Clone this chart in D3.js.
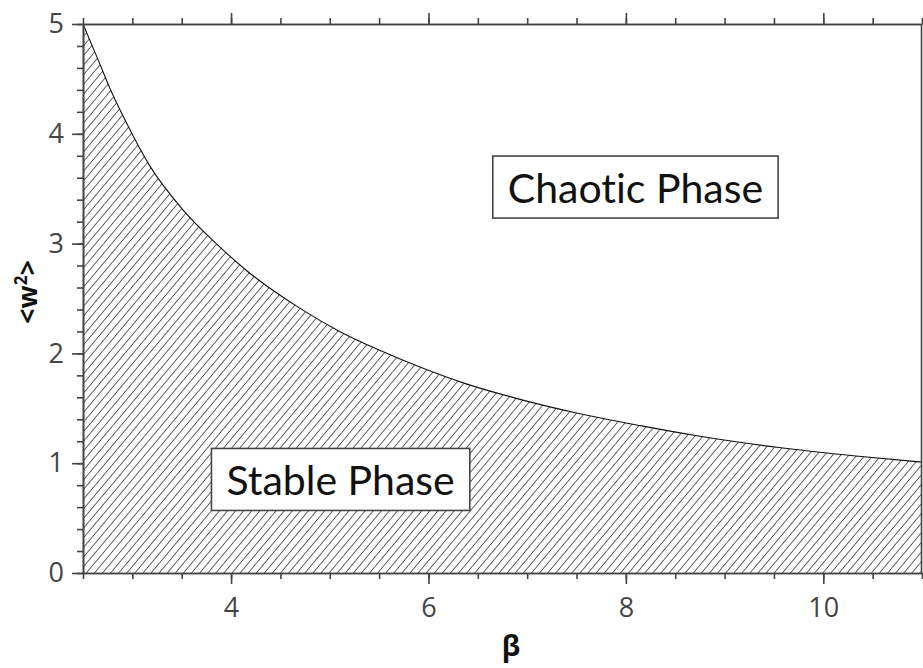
<!DOCTYPE html>
<html>
<head>
<meta charset="utf-8">
<script src="https://cdn.jsdelivr.net/npm/d3@7"></script>
<style>
  html, body { margin: 0; padding: 0; background: #fff; }
  svg { display: block; }
  text { font-family: "Open Sans", "Noto Sans", sans-serif; font-variant-ligatures: none; }
</style>
</head>
<body>
<svg id="chart" width="923" height="668"></svg>
<script>
// Stability boundary: <w^2> as a function of beta
const betaValues = [2.5, 2.65, 2.77, 2.94, 3.175, 3.51, 3.85, 4.15, 4.70, 5.10, 5.50, 5.90, 6.39, 6.87, 7.51, 8.16, 8.72, 9.53, 10.33, 11.0];
const w2Values   = [5.0, 4.68, 4.42, 4.10, 3.71, 3.31, 3.00, 2.76, 2.41, 2.20, 2.03, 1.88, 1.72, 1.595, 1.455, 1.34, 1.25, 1.145, 1.065, 1.01];

const xTickValues = [4, 6, 8, 10];
const yTickValues = [0, 1, 2, 3, 4, 5];

const regionLabels = [
  { text: "Chaotic Phase", beta: 8.097, w2: 3.515 },
  { text: "Stable Phase",  beta: 5.11,  w2: 0.852 }
];

const svg = d3.select("#chart");
const margin = { left: 83, right: 1, top: 24, bottom: 95 };
const W = 923, H = 668;

const x = d3.scaleLinear().domain([2.5, 11]).range([margin.left, W - margin.right]);
const y = d3.scaleLinear().domain([0, 5]).range([H - margin.bottom, margin.top]);

const points = betaValues.map((b, i) => ({ b, w: w2Values[i] }));

// Diagonal hatch for the stable region
const defs = svg.append("defs");
const pat = defs.append("pattern")
  .attr("id", "hatch")
  .attr("patternUnits", "userSpaceOnUse")
  .attr("width", 6.2).attr("height", 20)
  .attr("patternTransform", "rotate(40)");
pat.append("line")
  .attr("x1", 0).attr("y1", -2).attr("x2", 0).attr("y2", 22)
  .attr("stroke", "#000").attr("stroke-width", 1.2);

const area = d3.area()
  .x(d => x(d.b))
  .y0(y(0))
  .y1(d => y(d.w))
  .curve(d3.curveMonotoneX);

svg.append("path")
  .datum(points)
  .attr("d", area)
  .attr("fill", "url(#hatch)");

const line = d3.line()
  .x(d => x(d.b))
  .y(d => y(d.w))
  .curve(d3.curveMonotoneX);

svg.append("path")
  .datum(points)
  .attr("d", line)
  .attr("fill", "none")
  .attr("stroke", "#111")
  .attr("stroke-width", 1.1);

// Axes
const axisColor = "#444";
const minorX = d3.range(2.5, 11.001, 0.5);
const minorY = d3.range(0, 5.001, 0.2);

function styleAxis(g) {
  g.selectAll(".domain").attr("stroke", axisColor).attr("stroke-width", 1.6);
  g.selectAll(".tick line").attr("stroke", axisColor).attr("stroke-width", 1.6);
  g.selectAll(".tick text")
    .attr("fill", "#444")
    .style("font-size", "27px")
    .style("font-family", "'Open Sans', 'Noto Sans', sans-serif");
}

// bottom minor + major
svg.append("g")
  .attr("transform", `translate(0,${y(0)})`)
  .call(d3.axisBottom(x).tickValues(minorX).tickSize(6).tickFormat("").tickSizeOuter(0))
  .call(styleAxis);
svg.append("g")
  .attr("transform", `translate(0,${y(0)})`)
  .call(d3.axisBottom(x).tickValues(xTickValues).tickSize(11).tickPadding(14).tickFormat(d3.format("d")).tickSizeOuter(0))
  .call(styleAxis);

// top mirror
svg.append("g")
  .attr("transform", `translate(0,${y(5)})`)
  .call(d3.axisTop(x).tickValues(minorX).tickSize(6).tickFormat("").tickSizeOuter(0))
  .call(styleAxis);
svg.append("g")
  .attr("transform", `translate(0,${y(5)})`)
  .call(d3.axisTop(x).tickValues(xTickValues).tickSize(11).tickFormat("").tickSizeOuter(0))
  .call(styleAxis);

// left minor + major
svg.append("g")
  .attr("transform", `translate(${x(2.5)},0)`)
  .call(d3.axisLeft(y).tickValues(minorY).tickSize(6).tickFormat("").tickSizeOuter(0))
  .call(styleAxis);
svg.append("g")
  .attr("transform", `translate(${x(2.5)},0)`)
  .call(d3.axisLeft(y).tickValues(yTickValues).tickSize(11).tickPadding(8).tickFormat(d3.format("d")).tickSizeOuter(0))
  .call(styleAxis);

// right border
svg.append("line")
  .attr("x1", x(11) - 0.5).attr("x2", x(11) - 0.5)
  .attr("y1", y(0)).attr("y2", y(5))
  .attr("stroke", axisColor).attr("stroke-width", 1.6);

// Axis titles
svg.append("text")
  .attr("x", 511).attr("y", 656)
  .attr("text-anchor", "middle")
  .style("font-size", "28px").style("font-weight", "bold")
  .attr("fill", "#111")
  .text("β");

const yl = svg.append("text")
  .attr("transform", `translate(37,292) rotate(-90)`)
  .attr("text-anchor", "middle")
  .style("font-size", "27px").style("font-weight", "bold")
  .attr("fill", "#111");
yl.append("tspan").text("<w");
yl.append("tspan").attr("dy", -10).style("font-size", "17px").text("2");
yl.append("tspan").attr("dy", 10).text(">");

// Region labels in boxed text
regionLabels.forEach(l => {
  const g = svg.append("g");
  const t = g.append("text")
    .attr("x", x(l.beta)).attr("y", y(l.w2))
    .attr("text-anchor", "middle")
    .attr("dominant-baseline", "central")
    .style("font-size", "41px")
    .style("font-family", "Lato, 'Open Sans', sans-serif")
    .attr("fill", "#111")
    .text(l.text);
  const bb = t.node().getBBox();
  g.insert("rect", "text")
    .attr("x", bb.x - 15).attr("y", y(l.w2) - 31)
    .attr("width", bb.width + 30).attr("height", 62)
    .attr("fill", "#fff")
    .attr("stroke", "#444").attr("stroke-width", 1.6);
});
</script>
</body>
</html>
